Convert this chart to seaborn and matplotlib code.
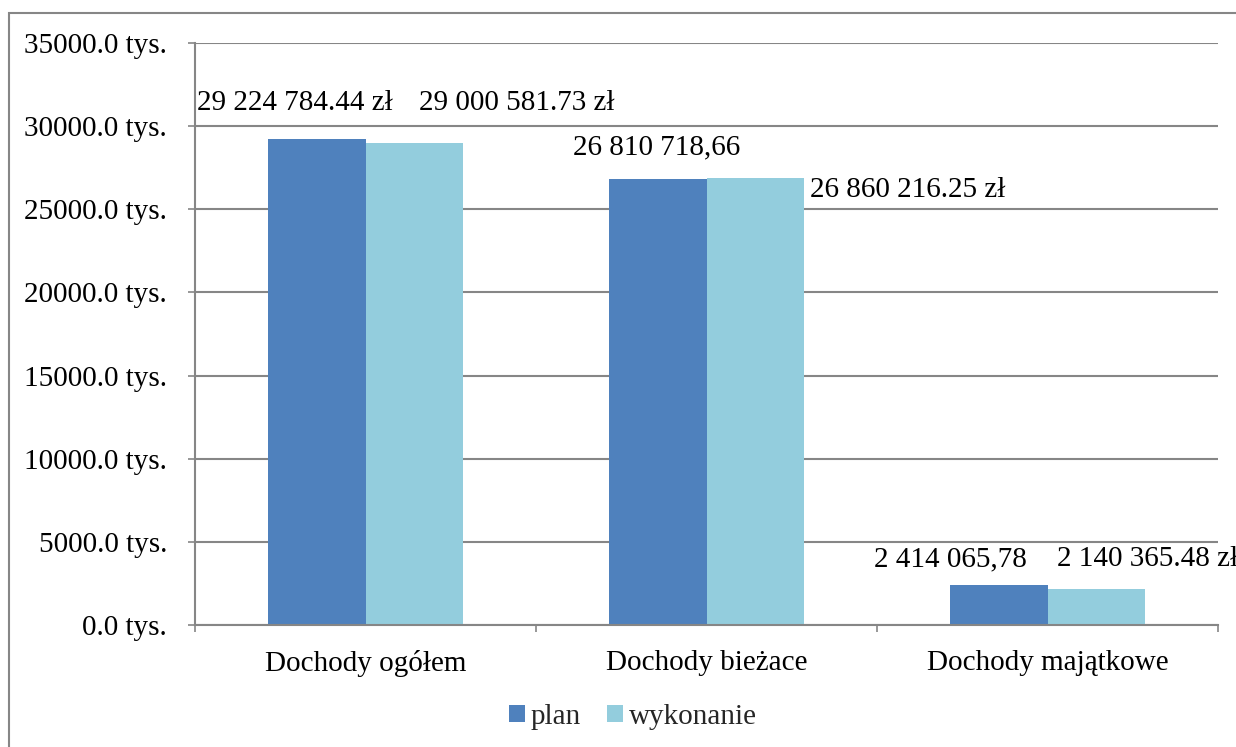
import matplotlib
matplotlib.use("Agg")
import matplotlib.pyplot as plt
from matplotlib.patches import Rectangle
from matplotlib.ticker import FuncFormatter, FixedLocator
import seaborn as sns
import pandas as pd

# Revenue categories and amounts (thousands of zł)
categories = ["Dochody ogółem", "Dochody bieżace", "Dochody majątkowe"]
series_names = ["plan", "wykonanie"]
plan_values = [29224.78444, 26810.71866, 2414.06578]
wykonanie_values = [29000.58173, 26860.21625, 2140.36548]
plan_labels = ["29 224 784.44 zł", "26 810 718,66", "2 414 065,78"]
wykonanie_labels = ["29 000 581.73 zł", "26 860 216.25 zł", "2 140 365.48 zł"]
y_ticks = [0, 5000, 10000, 15000, 20000, 25000, 30000, 35000]

df = pd.DataFrame({
    "kategoria": categories * 2,
    "seria": [series_names[0]] * 3 + [series_names[1]] * 3,
    "wartosc": plan_values + wykonanie_values,
})

sns.set_theme(style="white")
plt.rcParams["font.family"] = ["Liberation Serif", "DejaVu Serif"]
FS = 21
GRAY = "#868686"
colors = {"plan": "#4F81BD", "wykonanie": "#93CDDD"}

fig = plt.figure(figsize=(12.36, 7.47), dpi=100)
ax = fig.add_axes([195 / 1236, 1 - 625 / 747, (1218 - 195) / 1236, (625 - 43) / 747])

sns.barplot(data=df, x="kategoria", y="wartosc", hue="seria", order=categories,
            hue_order=series_names, palette=colors, width=0.572, saturation=1,
            edgecolor="none", linewidth=0, legend=True, ax=ax)

ax.set_xlim(-0.5, 2.5)
ax.set_ylim(0, 35000)
ax.set_xlabel("")
ax.set_ylabel("")

# y axis: gridlines and "tys." labels
ax.yaxis.set_major_locator(FixedLocator(y_ticks))
ax.yaxis.set_major_formatter(FuncFormatter(lambda v, p: f"{v:.1f} tys."))
ax.grid(axis="y", color=GRAY, linewidth=1.5)
ax.set_axisbelow(True)
ax.tick_params(axis="y", which="major", left=True, length=5, width=1.2, color=GRAY,
               pad=15, labelsize=FS, labelcolor="black")

# x axis: category labels centred, tick marks on category boundaries
ax.set_xticks(range(len(categories)))
ax.set_xticklabels(categories)
ax.set_xticks([-0.5, 0.5, 1.5, 2.5], minor=True)
ax.tick_params(axis="x", which="major", bottom=True, length=0, pad=18,
               labelsize=FS, labelcolor="black")
ax.tick_params(axis="x", which="minor", bottom=True, length=5, width=1.2, color=GRAY)

for side in ["top", "right"]:
    ax.spines[side].set_visible(False)
for side in ["left", "bottom"]:
    ax.spines[side].set_color(GRAY)
    ax.spines[side].set_linewidth(1.5)

# value labels
label_spots_plan = [(-0.207, 31390, "center"), (0.855, 28740, "center"), (1.714, 3970, "center")]
label_spots_wyk = [(0.444, 31390, "center"), (1.304, 26160, "left"), (2.028, 3970, "left")]
for (x, y, ha), txt in zip(label_spots_plan, plan_labels):
    ax.text(x, y, txt, ha=ha, va="center", fontsize=FS, color="black", clip_on=False)
for (x, y, ha), txt in zip(label_spots_wyk, wykonanie_labels):
    ax.text(x, y, txt, ha=ha, va="center", fontsize=FS, color="black", clip_on=False)

# legend below the plot
handles, labels = ax.get_legend_handles_labels()
ax.get_legend().remove()
fig.legend(handles, labels, loc="center", bbox_to_anchor=(0.512, 1 - 717 / 747),
           ncol=2, frameon=False, fontsize=FS, handlelength=0.55, handleheight=0.55,
           handletextpad=0.2, columnspacing=0.9)

# outer chart border
fig.add_artist(Rectangle((8.5 / 1236, -0.1), 2, 1.1 - 12.5 / 747, transform=fig.transFigure,
                         fill=False, edgecolor=GRAY, linewidth=1.5))

fig.savefig("out.png", dpi=100)
